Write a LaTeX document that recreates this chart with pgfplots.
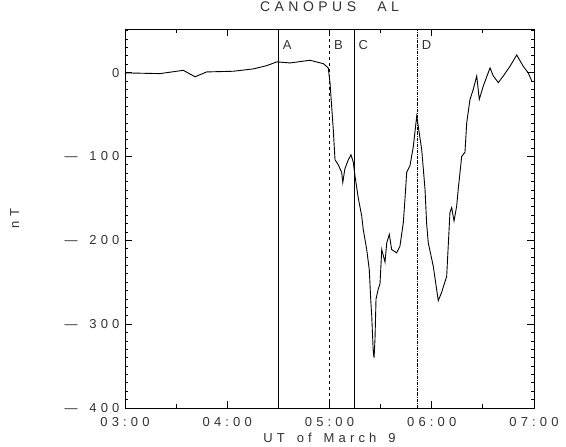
\documentclass[border=0pt]{standalone}
\usepackage{fontspec}
\setmainfont{Liberation Sans}
\usepackage{pgfplots}
\pgfplotsset{compat=1.18}
\makeatletter
\newcommand\spaceout[1]{\@tfor\next:=#1\do{\next\kern0.32em}\kern-0.32em}
\makeatother
\newcommand\lbl{\fontsize{13}{15}\selectfont}

\begin{document}
\begin{tikzpicture}
\begin{axis}[
    scale only axis,
    width=409pt, height=379pt,
    xmin=3, xmax=7,
    ymin=-400, ymax=52,
    xtick={3,4,5,6,7},
    xticklabels={\spaceout{03:00},\spaceout{04:00},\spaceout{05:00},\spaceout{06:00},\spaceout{07:00}},
    ytick={-400,-300,-200,-100,0},
    yticklabels={\spaceout{—~400},\spaceout{—~300},\spaceout{—~200},\spaceout{—~100},0},
    major tick length=0pt,
    axis line style={line width=0.8pt},
    tick label style={font=\lbl, text=black!80},
    xticklabel style={yshift=-6pt},
    yticklabel style={xshift=-2pt},
    title={\spaceout{CANOPUS~~AL}},
    title style={font=\fontsize{14}{16}\selectfont, at={(0.5,1)}, anchor=center, yshift=16pt, text=black!80},
    xlabel={\spaceout{UT~of~March~9}},
    xlabel style={font=\lbl, at={(axis description cs:0.5,0)}, anchor=center, yshift=-30pt, text=black!80},
    clip=false,
]
% axis ticks, drawn inward
\pgfplotsinvokeforeach{3,4,5,6,7}{
  \draw[line width=0.8pt] (axis cs:#1,-400) -- (axis cs:#1,-391.6);
  \draw[line width=0.8pt] (axis cs:#1,52) -- (axis cs:#1,43.6);}
\pgfplotsinvokeforeach{3.5,4.5,5.5,6.5}{
  \draw[line width=0.8pt] (axis cs:#1,-400) -- (axis cs:#1,-395.2);
  \draw[line width=0.8pt] (axis cs:#1,52) -- (axis cs:#1,47.2);}
\pgfplotsinvokeforeach{-400,-300,-200,-100,0}{
  \draw[line width=0.8pt] (axis cs:3,#1) -- (axis cs:3.068,#1);
  \draw[line width=0.8pt] (axis cs:7,#1) -- (axis cs:6.932,#1);}
\pgfplotsinvokeforeach{-390,-380,-370,-360,-350,-340,-330,-320,-310,
  -290,-280,-270,-260,-250,-240,-230,-220,-210,
  -190,-180,-170,-160,-150,-140,-130,-120,-110,
  -90,-80,-70,-60,-50,-40,-30,-20,-10,10,20,30,40,50}{
  \draw[line width=0.7pt] (axis cs:3,#1) -- (axis cs:3.034,#1);
  \draw[line width=0.7pt] (axis cs:7,#1) -- (axis cs:6.966,#1);}
% y label
\node[rotate=90, font=\lbl, text=black!80] at (axis description cs:-0.27,0.5) {\spaceout{nT}};
% event lines
\addplot[black, line width=0.8pt] coordinates {(4.50,-400)(4.50,52)};
\addplot[black, line width=0.8pt, dashed] coordinates {(5.00,-400)(5.00,52)};
\addplot[black, line width=0.8pt] coordinates {(5.24,-400)(5.24,52)};
\addplot[black, line width=0.8pt, densely dashdotted] coordinates {(5.86,-400)(5.86,52)};
\node[anchor=west, font=\lbl, text=black!80] at (axis cs:4.51,33) {A};
\node[anchor=west, font=\lbl, text=black!80] at (axis cs:5.01,33) {B};
\node[anchor=west, font=\lbl, text=black!80] at (axis cs:5.25,33) {C};
\node[anchor=west, font=\lbl, text=black!80] at (axis cs:5.87,33) {D};
% AL index
\addplot[black, line width=0.9pt] coordinates {
(3.000,-1)(3.017,-0.4)(3.342,-1.2)(3.570,2.7)(3.685,-5)(3.799,0.8)
(4.059,1.6)(4.255,4.4)(4.386,8.3)(4.484,12.7)(4.496,12.7)(4.614,11.5)
(4.809,14.7)(4.939,10.7)(4.988,5.6)(5.005,-12)(5.021,-40)(5.037,-68)
(5.054,-104)(5.086,-110)(5.119,-119)(5.130,-131)(5.150,-115)(5.184,-104)
(5.210,-98)(5.233,-107)(5.249,-123)(5.282,-150)(5.315,-171)(5.330,-187)
(5.364,-211)(5.389,-235)(5.403,-270)(5.413,-290)(5.428,-333)(5.436,-340)
(5.445,-318)(5.455,-270)(5.477,-258)(5.494,-252)(5.511,-211)(5.543,-226)
(5.560,-203)(5.585,-193)(5.608,-211)(5.657,-215)(5.689,-207)(5.722,-179)
(5.738,-151)(5.755,-119)(5.787,-111)(5.820,-88)(5.853,-52)(5.868,-64)
(5.902,-92)(5.934,-139)(5.950,-180)(5.966,-203)(6.015,-231)(6.064,-272)
(6.097,-262)(6.146,-243)(6.178,-167)(6.195,-161)(6.218,-177)(6.244,-159)
(6.259,-139)(6.293,-100)(6.325,-95)(6.342,-60)(6.374,-32)(6.406,-20)
(6.440,-4)(6.465,-32)(6.504,-16)(6.570,5.6)(6.602,-4)(6.651,-12)
(6.700,-4)(6.765,7.5)(6.831,21)(6.895,7.5)(6.944,-0.4)(6.978,-10)
};
\coordinate (sw) at (rel axis cs:0,0);
\end{axis}
\pgfresetboundingbox
\useasboundingbox (sw) ++(-125pt,-39pt) rectangle ++(566pt,447pt);
\end{tikzpicture}
\end{document}
